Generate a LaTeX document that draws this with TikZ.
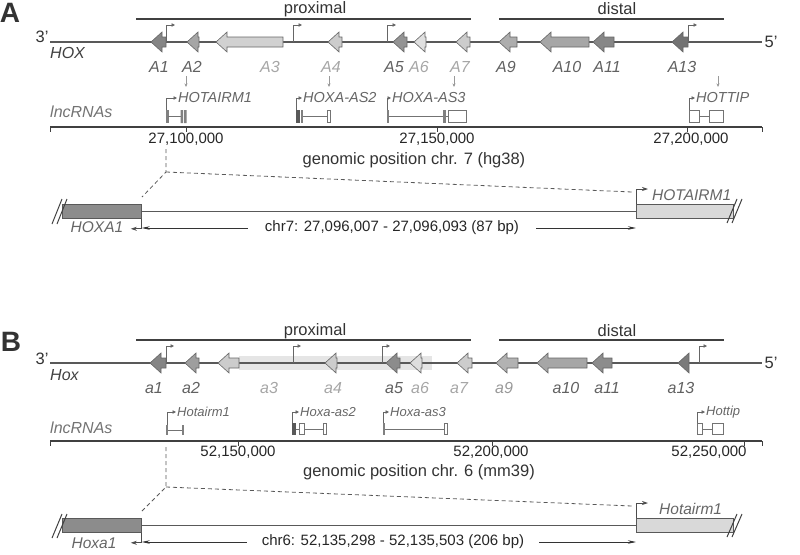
\documentclass[tikz,border=0pt]{standalone}
\usepackage{fontspec}
\setmainfont{Liberation Sans}
\usetikzlibrary{arrows.meta}

\begin{document}
\begin{tikzpicture}[x=1pt, y=-1pt, >=Stealth,
    panel/.style={font=\fontsize{28}{30}\selectfont\bfseries, text=black!80, inner sep=0pt},
    txt/.style={font=\fontsize{16.5}{19}\selectfont, text=black!80, inner sep=0pt},
    gene/.style={draw=black!60, line width=0.6pt, line join=miter},
    genelab/.style={font=\fontsize{16}{18}\selectfont\itshape, inner sep=0pt},
    lncA/.style={font=\fontsize{14.5}{16}\selectfont\itshape, text=black!60, inner sep=1pt, anchor=west},
    lncB/.style={font=\fontsize{13}{15}\selectfont\itshape, text=black!60, inner sep=1pt, anchor=west},
    ticklab/.style={font=\fontsize{15}{17}\selectfont, text=black!85, inner sep=0pt},
    dimlab/.style={font=\fontsize{15}{17}\selectfont, text=black!85, inner sep=0pt, inner xsep=17pt},
    bottomlab/.style={font=\fontsize{15.5}{17}\selectfont\itshape, text=black!60, inner sep=0pt},
    region/.style={line width=1.8pt, draw=black!75},
    chrom/.style={line width=1.3pt, draw=black!65},
    axis/.style={line width=1.6pt, draw=black!75},
    axtick/.style={line width=1pt, draw=black!75},
    tss/.style={line width=0.8pt, draw=black!60, -{Triangle[length=3.5pt, width=3.5pt]}},
    pointer/.style={line width=0.7pt, draw=black!40, -{Stealth[length=3.5pt, width=3pt]}},
    exon/.style={draw=black!55, fill=white, line width=0.7pt},
    intron/.style={draw=black!55, line width=0.8pt},
    zoomline/.style={draw=black!65, line width=0.8pt, dash pattern=on 4pt off 3pt},
    dimarr/.style={draw=black!80, line width=0.7pt, -{Stealth[length=8pt, width=3.5pt]}},
    bigtss/.style={draw=black!70, line width=0.8pt, -{Stealth[length=6pt, width=4pt]}},
    gbox/.style={draw=black!65, line width=0.8pt, minimum height=14pt, inner sep=0pt, anchor=north west},
    slash/.style={draw=black!75, line width=1pt}]
\useasboundingbox (0,0) rectangle (800,554);

% ---------------- Panel A ----------------
\node[panel] (pA) at (10,13) {A};
\draw[region] (136,19) -- (471,19);
\draw[region] (499,19) -- (724,19);
\node[txt] (proxA) at (315,9) {proximal};
\node[txt] (distA) at (617,9) {distal};

% HOX cluster
\node[txt] (3A) at (42,37) {3'};
\node[txt] (5A) at (771,42) {5'};
\node[genelab, text=black!75, anchor=west] (HOX) at (50,53) {HOX};
\draw[chrom] (50,42) -- (762,42);
\foreach \n/\t/\r/\c in {A1/151/166/black!48, A2/187/199/black!35, A3/216/283/black!18, A4/328/342/black!20, A5/393/407/black!42, A6/414/426/black!12, A7/456/470/black!20, A9/499/517/black!32, A10/540/589/black!35, A11/593/614/black!47, A13/672/688/black!55}
  \draw[gene, fill=\c] (\t,42) -- ({\t+11},32) -- ({\t+11},37) -- (\r,37) -- (\r,47) -- ({\t+11},47) -- ({\t+11},52) -- cycle;
\foreach \x in {166, 293, 387, 688}
  \draw[tss] (\x,42) -- ++(0,-17) -- ++(9,0);
\foreach \n/\x/\c in {A1/159/black!62, A2/192/black!62, A3/270/black!35, A4/331/black!35, A5/394/black!62, A6/419/black!35, A7/460/black!35, A9/506/black!62, A10/567/black!62, A11/607/black!62, A13/682/black!62}
  \node[genelab, text=\c] (l\n) at (\x,67) {\n};
\foreach \x in {186, 329, 454, 718}
  \draw[pointer] (\x,76) -- (\x,87);

% lncRNAs
\node[genelab, text=black!55, anchor=west] (lncA) at (50,112) {lncRNAs};
\node[lncA] (HOTAIRM1) at (177,98) {HOTAIRM1};
\node[lncA] (HOXAAS2) at (302,98) {HOXA-AS2};
\node[lncA] (HOXAAS3) at (391,98) {HOXA-AS3};
\node[lncA] (HOTTIP) at (695,98) {HOTTIP};
\draw[tss] (166.5,110) |- (HOTAIRM1.west);
\draw[tss] (296,110) |- (HOXAAS2.west);
\draw[tss] (387,110) |- (HOXAAS3.west);
\draw[tss] (689,110) |- (HOTTIP.west);
% exon structures
\fill[black!50] (166,110) rectangle (168.5,123);
\draw[intron] (168,116.5) -- (181,116.5);
\fill[black!50] (180.5,110) rectangle (183,123) (184,110) rectangle (186.5,123);
\fill[black!65] (296,110) rectangle (299.5,123);
\fill[black!50] (300.5,110) rectangle (302.5,123);
\draw[intron] (302.5,116.5) -- (327,116.5);
\draw[exon] (327,110.5) rectangle (330.5,122.5);
\fill[black!50] (386.5,110) rectangle (388.5,123);
\draw[intron] (388.5,116.5) -- (448,116.5);
\fill[black!50] (443,110) rectangle (445.5,123);
\draw[exon] (448,110.5) rectangle (466,122.5);
\draw[intron] (699,116.5) -- (709,116.5);
\draw[exon] (689,110.5) rectangle (699,122.5);
\draw[exon] (709,110.5) rectangle (723,122.5);

% genomic axis
\draw[axis] (50,127) -- (762,127);
\foreach \x in {50, 186, 437, 687, 762}
  \draw[axtick] (\x,127) -- (\x,132);
\node[ticklab] (tA1) at (186,139) {27,100,000};
\node[ticklab] (tA2) at (437,139) {27,150,000};
\node[ticklab] (tA3) at (691,139) {27,200,000};
\node[txt] (posA) at (414,160) {genomic position chr. 7 (hg38)};

% zoom-in
\coordinate (zA) at (166,172);
\draw[zoomline] (166,149) -- (zA) -- (142,197);
\draw[zoomline] (zA) -- (632,192);
\node[gbox, fill=black!45, minimum width=79pt] (HOXA1box) at (62,204) {};
\node[gbox, fill=black!15, minimum width=97pt] (HOTAIRM1box) at (636,204) {};
\draw[chrom, line width=1pt] (HOXA1box.east) -- (HOTAIRM1box.west);
\draw[slash] (52,224) -- (62,199) (57,224) -- (67,199);
\draw[slash] (727,223) -- (737,199) (732,223) -- (742,199);
\draw[bigtss] (HOTAIRM1box.north west) -- ++(0,-15) -- ++(12,0);
\node[bottomlab, anchor=west] (HOTAIRM1lab) at (652,195) {HOTAIRM1};
\draw[bigtss] (HOXA1box.south east) -- ++(0,10) -- ++(-11,0);
\node[bottomlab] (HOXA1lab) at (97,227) {HOXA1};
\node[dimlab] (dimA) at (392,228) {chr7: 27,096,007 - 27,096,093 (87 bp)};
\draw[dimarr] (dimA.west) -- (dimA.west -| HOXA1box.east);
\draw[dimarr] (dimA.east) -- (dimA.east -| HOTAIRM1box.west);

% ---------------- Panel B ----------------
\node[panel] (pB) at (11,342) {B};
\draw[region] (136,340) -- (471,340);
\draw[region] (499,340) -- (724,340);
\node[txt] (proxB) at (315,331) {proximal};
\node[txt] (distB) at (617,331) {distal};

% Hox cluster
\node[txt] (3B) at (42,359) {3'};
\node[txt] (5B) at (771,363) {5'};
\node[genelab, text=black!75, anchor=west] (Hox) at (50,375) {Hox};
\fill[black!10] (239,356) rectangle (432,370);
\draw[chrom] (50,363) -- (762,363);
\foreach \n/\t/\r/\c in {a1/150/166/black!48, a2/185/199/black!38, a3/218/239/black!20, a4/325/337/black!20, a5/386/400/black!45, a6/410/422/black!13, a7/457/472/black!20, a9/496/518/black!30, a10/537/587/black!35, a11/592/612/black!45, a13/678/689/black!52}
  \draw[gene, fill=\c] (\t,363) -- ({\t+11},353) -- ({\t+11},358) -- (\r,358) -- (\r,368) -- ({\t+11},368) -- ({\t+11},373) -- cycle;
\foreach \x in {166, 293, 382, 699}
  \draw[tss] (\x,363) -- ++(0,-17) -- ++(8,0);
\foreach \n/\x/\c in {a1/154/black!62, a2/191/black!62, a3/269/black!35, a4/333/black!35, a5/394/black!62, a6/420/black!35, a7/459/black!35, a9/504/black!40, a10/566/black!62, a11/607/black!62, a13/681/black!62}
  \node[genelab, text=\c] (l\n) at (\x,388) {\n};

% lncRNAs
\node[genelab, text=black!55, anchor=west] (lncB) at (50,428) {lncRNAs};
\node[lncB] (Hotairm1) at (176,412) {Hotairm1};
\node[lncB] (Hoxaas2) at (299,412) {Hoxa-as2};
\node[lncB] (Hoxaas3) at (389,412) {Hoxa-as3};
\node[lncB] (Hottip) at (705,412) {Hottip};
\draw[tss] (167,425) |- (Hotairm1.west);
\draw[tss] (292,423) |- (Hoxaas2.west);
\draw[tss] (383.5,423) |- (Hoxaas3.west);
\draw[tss] (697.5,423) |- (Hottip.west);
% exon structures
\fill[black!50] (166,425) rectangle (168,435);
\draw[intron] (168,430) -- (182,430);
\fill[black!50] (182,425) rectangle (184,435);
\fill[black!65] (291.5,423) rectangle (295.5,435);
\draw[intron] (295.5,429) -- (323.5,429);
\draw[exon] (299,423.5) rectangle (304.5,434.5);
\draw[exon] (323.5,423.5) rectangle (326.5,434.5);
\fill[black!50] (382.5,423) rectangle (384.5,435);
\draw[intron] (384.5,429) -- (444,429);
\draw[exon] (444,423.5) rectangle (447,434.5);
\draw[intron] (702,429) -- (712,429);
\draw[exon] (697,423.5) rectangle (702,434.5);
\draw[exon] (712,423.5) rectangle (723,434.5);

% genomic axis
\draw[axis] (50,441) -- (762,441);
\foreach \x in {50, 238, 492, 744, 762}
  \draw[axtick] (\x,441) -- (\x,446);
\node[ticklab] (tB1) at (238,452) {52,150,000};
\node[ticklab] (tB2) at (491,452) {52,200,000};
\node[ticklab] (tB3) at (709,452) {52,250,000};
\node[txt] (posB) at (419,472) {genomic position chr. 6 (mm39)};

% zoom-in
\coordinate (zB) at (166,487);
\draw[zoomline] (166,447) -- (zB) -- (142,511);
\draw[zoomline] (zB) -- (632,506);
\node[gbox, fill=black!45, minimum width=79pt] (Hoxa1box) at (62,518) {};
\node[gbox, fill=black!15, minimum width=97pt] (Hotairm1box) at (636,518) {};
\draw[chrom, line width=1pt] (Hoxa1box.east) -- (Hotairm1box.west);
\draw[slash] (52,538) -- (62,514) (57,538) -- (67,514);
\draw[slash] (727,537) -- (737,514) (732,537) -- (742,514);
\draw[bigtss] (Hotairm1box.north west) -- ++(0,-15) -- ++(12,0);
\node[bottomlab, anchor=west] (Hotairm1lab) at (659,509) {Hotairm1};
\draw[bigtss] (Hoxa1box.south east) -- ++(0,10) -- ++(-11,0);
\node[bottomlab] (Hoxa1lab) at (94,543) {Hoxa1};
\node[dimlab, inner xsep=15pt] (dimB) at (393,542) {chr6: 52,135,298 - 52,135,503 (206 bp)};
\draw[dimarr] (dimB.west) -- (dimB.west -| Hoxa1box.east);
\draw[dimarr] (dimB.east) -- (dimB.east -| Hotairm1box.west);
\end{tikzpicture}
\end{document}
